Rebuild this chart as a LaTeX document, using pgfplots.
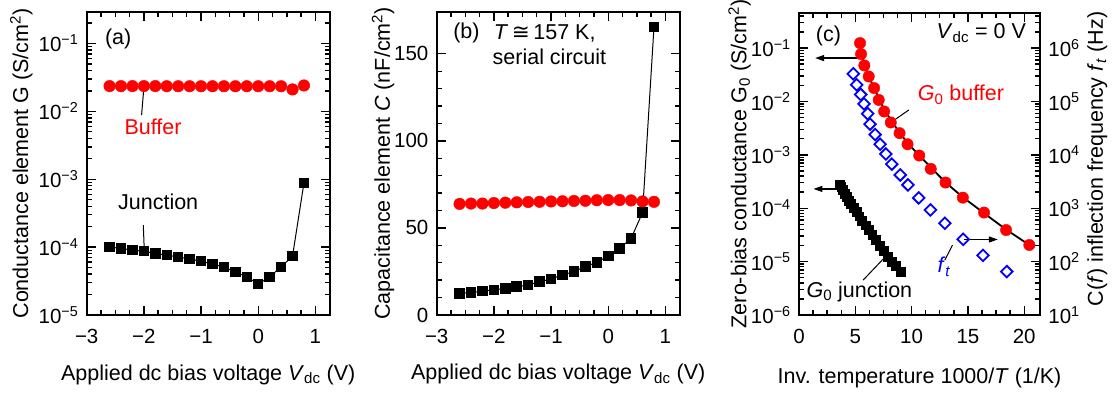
\documentclass[border=0pt]{standalone}
\usepackage{fontspec}
\setmainfont{Liberation Sans}
\newfontfamily\djv{DejaVu Sans}
\usepackage{pgfplots}
\pgfplotsset{compat=1.18}
\usetikzlibrary{arrows.meta}
\definecolor{pred}{RGB}{255,0,0}
\definecolor{pblue}{RGB}{0,0,255}
\begin{document}
\fontsize{21.5bp}{25bp}\selectfont
\begin{tikzpicture}
\pgfplotsset{
  myax/.style={scale only axis, width=243bp, height=303bp, anchor=south west,
    font=\fontsize{21.5bp}{25bp}\selectfont,
    axis line style={line width=1.8bp},
    every tick/.style={black, line width=1.4bp},
    major tick length=9bp, minor tick length=5bp, tick align=inside,
    xticklabel style={yshift=-7bp, font=\fontsize{20.5bp}{24bp}\selectfont},
    yticklabel style={xshift=-1bp, font=\fontsize{20.5bp}{24bp}\selectfont},
    clip=false},
  decmin/.style={minor ytick={2e-6,3e-6,4e-6,5e-6,6e-6,7e-6,8e-6,9e-6,
     2e-5,3e-5,4e-5,5e-5,6e-5,7e-5,8e-5,9e-5,
     2e-4,3e-4,4e-4,5e-4,6e-4,7e-4,8e-4,9e-4,
     2e-3,3e-3,4e-3,5e-3,6e-3,7e-3,8e-3,9e-3,
     2e-2,3e-2,4e-2,5e-2,6e-2,7e-2,8e-2,9e-2,
     0.2,0.3,0.4}},
  decminR/.style={minor ytick={20,30,40,50,60,70,80,90,
     200,300,400,500,600,700,800,900,
     2e3,3e3,4e3,5e3,6e3,7e3,8e3,9e3,
     2e4,3e4,4e4,5e4,6e4,7e4,8e4,9e4,
     2e5,3e5,4e5,5e5,6e5,7e5,8e5,9e5,
     2e6,3e6,4e6}},
}
% ---------------- (a)
\begin{axis}[myax, at={(86.7bp,-315bp)}, ymode=log,
  xmin=-3, xmax=1.25, ymin=1e-5, ymax=0.29,
  xtick={-3,-2,-1,0,1}, xticklabels={−3,−2,−1,0,1}, minor x tick num=3,
  ytick={1e-5,1e-4,1e-3,1e-2,1e-1},
  yticklabels={10\textsuperscript{−5},10\textsuperscript{−4},10\textsuperscript{−3},10\textsuperscript{−2},10\textsuperscript{−1}},
  decmin,
  xlabel={Applied dc bias voltage \textit{V}\textsubscript{dc} (V)},
  ylabel={Conductance element G (S/cm\textsuperscript{2})},
  xlabel style={at={(axis description cs:0.5,-0.2145)}, anchor=base},
  ylabel style={at={(axis description cs:-0.2415,0.5)}, anchor=base},
]
\addplot[only marks, mark=*, mark size=5.8bp, pred, mark options={draw=pred, fill=pred}] coordinates {
(-2.6,0.0235) (-2.4,0.0235) (-2.2,0.0235) (-2.0,0.0235) (-1.8,0.0235) (-1.6,0.0234)
(-1.4,0.0234) (-1.2,0.0234) (-1.0,0.0234) (-0.8,0.0234) (-0.6,0.0234) (-0.4,0.0234)
(-0.2,0.0234) (0,0.0234) (0.2,0.0234) (0.4,0.0234) (0.6,0.0210) (0.8,0.0240)};
\addplot[black, line width=1bp, mark=square*, mark size=4.7bp, mark options={fill=black}] coordinates {
(-2.6,1.0e-4) (-2.4,9.6e-5) (-2.2,9.0e-5) (-2.0,8.7e-5) (-1.8,8.1e-5) (-1.6,7.6e-5)
(-1.4,7.2e-5) (-1.2,6.65e-5) (-1.0,6.2e-5) (-0.8,5.6e-5) (-0.6,5.1e-5) (-0.4,4.3e-5)
(-0.2,3.65e-5) (0,2.85e-5) (0.2,3.65e-5) (0.4,5.1e-5) (0.6,7.4e-5) (0.8,8.85e-4)};
\draw[black, line width=1bp] (axis cs:-2.0,0.0225) -- (axis cs:-2.04,0.0088);
\draw[black, line width=1bp] (axis cs:-2.01,2.1e-4) -- (axis cs:-1.995,9.9e-5);
\node at (axis cs:-2.45,0.115) {(a)};
\node[text=pred] at (axis cs:-1.84,5.9e-3) {Buffer};
\node at (axis cs:-1.75,4.65e-4) {Junction};
\end{axis}
% ---------------- (b)
\begin{axis}[myax, at={(436.7bp,-315bp)},
  xmin=-3, xmax=1.25, ymin=0, ymax=174,
  xtick={-3,-2,-1,0,1}, xticklabels={−3,−2,−1,0,1}, minor x tick num=3,
  ytick={0,50,100,150}, yticklabels={0,50,100,150}, minor y tick num=4,
  xlabel={Applied dc bias voltage \textit{V}\textsubscript{dc} (V)},
  ylabel={Capacitance element \textit{C} (nF/cm\textsuperscript{2})},
  xlabel style={at={(axis description cs:0.5,-0.2145)}, anchor=base},
  ylabel style={at={(axis description cs:-0.193,0.5)}, anchor=base},
]
\addplot[only marks, mark=*, mark size=5.8bp, pred, mark options={draw=pred, fill=pred}] coordinates {
(-2.6,63.8) (-2.4,64.0) (-2.2,64.0) (-2.0,64.3) (-1.8,64.5) (-1.6,64.7)
(-1.4,64.9) (-1.2,65.0) (-1.0,65.2) (-0.8,65.3) (-0.6,65.5) (-0.4,65.6)
(-0.2,65.9) (0,66.0) (0.2,66.0) (0.4,65.8) (0.6,65.2) (0.8,65.0)};
\addplot[black, line width=1bp, mark=square*, mark size=4.8bp, mark options={fill=black}] coordinates {
(-2.6,12.5) (-2.4,12.8) (-2.2,13.8) (-2.0,14.4) (-1.8,15.3) (-1.6,16.3)
(-1.4,17.2) (-1.2,19.1) (-1.0,20.7) (-0.8,23.0) (-0.6,24.9) (-0.4,27.8)
(-0.2,30.3) (0,33.9) (0.2,38.3) (0.4,44.0) (0.6,58.8) (0.8,165.3)};
\node at (axis cs:-2.48,161.9) {(b)};
\node[anchor=west] at (axis cs:-2.13,161.9) {\textit{T}\,{\djv ≅}\,157 K,};
\node[anchor=west] at (axis cs:-2.15,148.1) {serial circuit};
\end{axis}
% ---------------- (c) left axis
\begin{axis}[myax, at={(799bp,-315bp)}, width=241bp, height=302bp, ymode=log,
  xmin=0, xmax=21.4, ymin=1e-6, ymax=0.454,
  xtick={0,5,10,15,20}, xticklabels={0,5,10,15,20}, minor x tick num=3,
  ytick={1e-6,1e-5,1e-4,1e-3,1e-2,1e-1}, ytick pos=left,
  yticklabels={10\textsuperscript{−6},10\textsuperscript{−5},10\textsuperscript{−4},10\textsuperscript{−3},10\textsuperscript{−2},10\textsuperscript{−1}},
  decmin,
  xlabel={Inv. temperature 1000/\textit{T} (1/K)},
  ylabel={Zero-bias conductance G\textsubscript{0} (S/cm\textsuperscript{2})},
  xlabel style={at={(axis description cs:0.5,-0.226)}, anchor=base},
  ylabel style={at={(axis description cs:-0.218,0.5)}, anchor=base},
]
\addplot[only marks, mark=*, mark size=5.7bp, pred, mark options={draw=pred, fill=pred}] coordinates {
(5.42,0.124) (5.51,0.0772) (5.80,0.0473) (6.19,0.0294) (6.67,0.0178) (7.08,0.0107)
(7.56,0.0065) (8.15,0.00404) (8.93,0.00255) (9.64,0.00158) (10.68,0.000972)
(11.70,0.000546) (13.01,0.000303) (14.55,0.000158) (16.43,8.3e-5) (18.39,3.9e-5) (20.45,2.05e-5)};
\addplot[black, line width=1.8bp, smooth, tension=0.6] coordinates {
(5.45,0.115) (5.6,0.075) (5.85,0.047) (6.2,0.029) (6.7,0.0175) (7.15,0.0107)
(7.65,0.0067) (8.25,0.0042) (8.95,0.0026) (9.7,0.00162) (10.7,0.00097)
(11.75,0.00057) (13.0,0.00031) (14.55,0.000162) (16.4,8.2e-5) (18.4,4.0e-5) (20.45,2.05e-5)};
\addplot[only marks, mark=square*, mark size=4.4bp, black] coordinates {
(3.6,2.75e-4) (3.75,2.5e-4) (3.9,2.2e-4) (4.05,1.9e-4) (4.2,1.65e-4) (4.4,1.4e-4)
(4.6,1.2e-4) (4.85,1.02e-4) (5.1,8.5e-5) (5.35,7.1e-5) (5.6,5.9e-5) (5.9,4.8e-5)
(6.2,3.9e-5) (6.5,3.15e-5) (6.8,2.55e-5) (7.15,2.0e-5) (7.5,1.6e-5) (7.85,1.25e-5)
(8.2,1.0e-5) (8.6,8.3e-6) (9.0,6.4e-6)};
\draw[black, line width=1.3bp, -{Triangle[length=9bp,width=6bp]}] (axis cs:5.45,0.065) -- (axis cs:1.43,0.065);
\draw[black, line width=1.3bp, -{Triangle[length=9bp,width=6bp]}] (axis cs:3.8,2.3e-4) -- (axis cs:1.28,2.3e-4);
\draw[black, line width=1.3bp, -{Triangle[length=9bp,width=6bp]}] (axis cs:14.67,2.6e-5) -- (axis cs:17.65,2.6e-5);
\draw[black, line width=1bp] (axis cs:8.125,4.0e-3) -- (axis cs:9.76,6.95e-3);
\draw[black, line width=1bp] (axis cs:13.63,2.04e-5) -- (axis cs:12.95,1.07e-5);
\draw[black, line width=1bp] (axis cs:7.53,1.15e-5) -- (axis cs:5.69,4.5e-6);
\node at (axis cs:2.62,0.166) {(c)};
\node[anchor=east] at (axis cs:20.8,0.191) {\textit{V}\textsubscript{dc} = 0 V};
\node[anchor=west, text=pred] at (axis cs:9.9,0.0133) {\textit{G}\textsubscript{0} buffer};
\node[text=pblue] at (axis cs:12.88,8.0e-6) {\textit{f}\textsubscript{\textit{t}}};
\node at (axis cs:5.36,2.73e-6) {\textit{G}\textsubscript{0} junction};
\end{axis}
% ---------------- (c) right axis
\begin{axis}[myax, at={(799bp,-315bp)}, width=241bp, height=302bp, ymode=log,
  xmin=0, xmax=21.4, ymin=10, ymax=4.54e6, hide x axis,
  ytick={10,100,1e3,1e4,1e5,1e6}, ytick pos=right, yticklabel pos=right,
  yticklabels={10\textsuperscript{1},10\textsuperscript{2},10\textsuperscript{3},10\textsuperscript{4},10\textsuperscript{5},10\textsuperscript{6}},
  yticklabel style={xshift=2bp},
  decminR,
  ylabel={C(\textit{f}) inflection frequency \textit{f}\textsubscript{\textit{t}} (Hz)},
  ylabel style={at={(axis description cs:1.261,0.517)}, anchor=base, rotate=0},
]
\addplot[only marks, mark=square, mark size=4.1bp, pblue, line width=1.8bp, mark options={rotate=45}] coordinates {
(4.82,3.3e5) (5.12,2.05e5) (5.48,1.35e5) (5.77,9.0e4) (6.10,5.9e4) (6.31,3.76e4)
(6.76,2.4e4) (7.20,1.58e4) (7.71,1.04e4) (8.24,6.7e3) (8.99,4.2e3) (9.67,2.74e3)
(10.63,1.56e3) (11.67,930) (12.95,523) (14.58,262) (16.34,131) (18.45,65)};
\end{axis}
\pgfresetboundingbox
\path (0bp,0bp) rectangle (1114bp,-395bp);
\end{tikzpicture}
\end{document}
